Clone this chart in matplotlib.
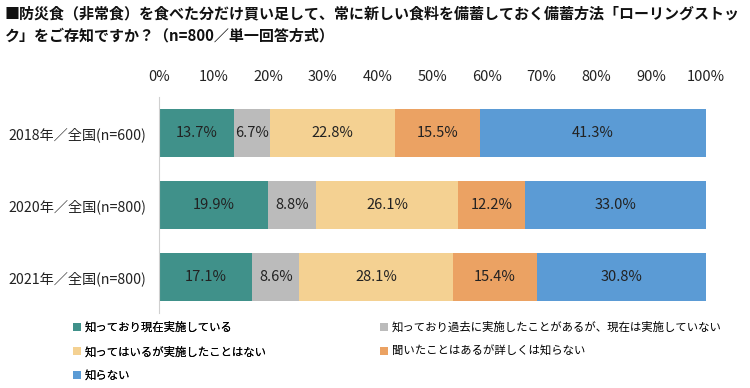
import matplotlib
matplotlib.use("Agg")
import matplotlib.pyplot as plt
from matplotlib.patches import Patch
import numpy as np

plt.rcParams['font.family'] = ['Noto Sans CJK JP', 'DejaVu Sans']

title = "■防災食（非常食）を食べた分だけ買い足して、常に新しい食料を備蓄しておく備蓄方法「ローリングストッ\nク」をご存知ですか？（n=800／単一回答方式）"
categories = ["2018年／全国(n=600)", "2020年／全国(n=800)", "2021年／全国(n=800)"]
series_names = ["知っており現在実施している",
                "知っており過去に実施したことがあるが、現在は実施していない",
                "知ってはいるが実施したことはない",
                "聞いたことはあるが詳しくは知らない",
                "知らない"]
s1 = [13.7, 19.9, 17.1]
s2 = [6.7, 8.8, 8.6]
s3 = [22.8, 26.1, 28.1]
s4 = [15.5, 12.2, 15.4]
s5 = [41.3, 33.0, 30.8]
series = [s1, s2, s3, s4, s5]
colors = ["#40918A", "#BBBBBB", "#F4D192", "#EBA263", "#5B9BD5"]
xticks = [0, 10, 20, 30, 40, 50, 60, 70, 80, 90, 100]

fig = plt.figure(figsize=(7.5, 3.88), dpi=100)
ax = fig.add_axes([159/750, 1-313/388, (705.5-159)/750, 216/388])

y = np.arange(len(categories))
left = np.zeros(len(categories))
for vals, c in zip(series, colors):
    bars = ax.barh(y, vals, left=left, color=c, height=0.66, edgecolor='none')
    for b, v in zip(bars, vals):
        ax.text(b.get_x() + b.get_width()/2, b.get_y() + b.get_height()/2,
                f"{v:.1f}%", ha='center', va='center', fontsize=10.5, color='#222222')
    left += np.array(vals)

ax.set_xlim(0, 100)
ax.set_ylim(2.5, -0.5)
ax.set_yticks(y)
ax.set_yticklabels(categories, fontsize=10.2, color='#222222')
ax.set_xticks(xticks)
ax.set_xticklabels([f"{t}%" for t in xticks], fontsize=10.5, color='#222222')
ax.xaxis.tick_top()
ax.tick_params(axis='both', length=0)
ax.tick_params(axis='x', pad=9.5)
ax.tick_params(axis='y', pad=9)
for s in ['top', 'right', 'bottom']:
    ax.spines[s].set_visible(False)
ax.spines['left'].set_color('#D0D0D0')

fig.text(5/750, 1-5/388, title, fontsize=10.8, fontweight='bold', va='top', ha='left',
         linespacing=1.5, color='#111111')

h = [Patch(facecolor=c, edgecolor='none') for c in colors]
order1 = [0, 2, 4]
order2 = [1, 3]
kw = dict(loc='upper left', frameon=False, fontsize=8.2, handlelength=0.75,
          handleheight=0.75, handletextpad=0.35, labelspacing=1.15, borderaxespad=0)
leg1 = fig.legend([h[i] for i in order1], [series_names[i] for i in order1],
                  bbox_to_anchor=(68/750, 1-317/388), **kw)
leg2 = fig.legend([h[i] for i in order2], [series_names[i] for i in order2],
                  bbox_to_anchor=(375/750, 1-317/388), **kw)
fig.add_artist(leg1)

fig.savefig("out.png", dpi=100)
